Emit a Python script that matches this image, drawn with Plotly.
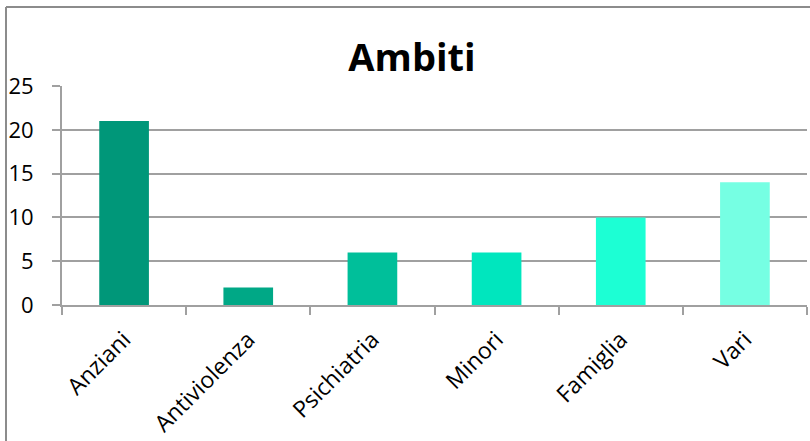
import plotly.graph_objects as go

# Categories and counts
categories = ["Anziani", "Antiviolenza", "Psichiatria", "Minori", "Famiglia", "Vari"]
values = [21, 2, 6, 6, 10, 14]
bar_colors = ["#009779", "#00A886", "#00BF9A", "#00E6BE", "#1CFFD4", "#76FFE3"]
y_ticks = [0, 5, 10, 15, 20, 25]

W, H = 810, 441
ML, MR, MT, MB = 62, 3, 86, 136
GRID = "#A0A0A0"
FONT = "Open Sans"

fig = go.Figure(
    go.Bar(
        x=categories,
        y=values,
        marker=dict(color=bar_colors, line=dict(width=0)),
        width=0.4,
        hoverinfo="x+y",
    )
)

# Chart frame: left and top edges, placed in pixels relative to the plot area
pw = W - ML - MR
ph = H - MT - MB
def px_x(x):
    return (x - ML) / pw
def px_y(y):
    return (H - MB - y) / ph

frame = dict(type="line", xref="paper", yref="paper", line=dict(color="#8C8C8C", width=2))
fig.add_shape(**frame, x0=px_x(6), x1=px_x(6), y0=px_y(7), y1=px_y(450))
fig.add_shape(**frame, x0=px_x(6), x1=px_x(820), y0=px_y(7), y1=px_y(7))

fig.update_layout(
    width=W,
    height=H,
    margin=dict(l=ML, r=MR, t=MT, b=MB, pad=0),
    paper_bgcolor="white",
    plot_bgcolor="white",
    showlegend=False,
    bargap=0.6,
    font=dict(family=FONT, size=22, color="black"),
    title=dict(
        text="<b>Ambiti</b>",
        font=dict(family=FONT, size=38, color="black"),
        x=412 / W,
        xanchor="center",
        xref="container",
        y=1 - 58 / H,
        yanchor="middle",
        yref="container",
    ),
    xaxis=dict(
        type="category",
        tickangle=-45,
        showgrid=False,
        showline=True,
        linecolor=GRID,
        linewidth=2,
        ticks="outside",
        tickson="boundaries",
        ticklen=8,
        tickwidth=2,
        tickcolor=GRID,
        tickfont=dict(family=FONT, size=23),
        ticklabelstandoff=10,
    ),
    yaxis=dict(
        range=[0, 25],
        tickvals=y_ticks,
        showgrid=True,
        gridcolor=GRID,
        gridwidth=2,
        showline=True,
        linecolor=GRID,
        linewidth=2,
        ticks="outside",
        ticklen=8,
        tickwidth=2,
        tickcolor=GRID,
        zeroline=False,
        tickfont=dict(family=FONT, size=22),
        ticklabelstandoff=14,
    ),
)

fig.write_html("out.html")
